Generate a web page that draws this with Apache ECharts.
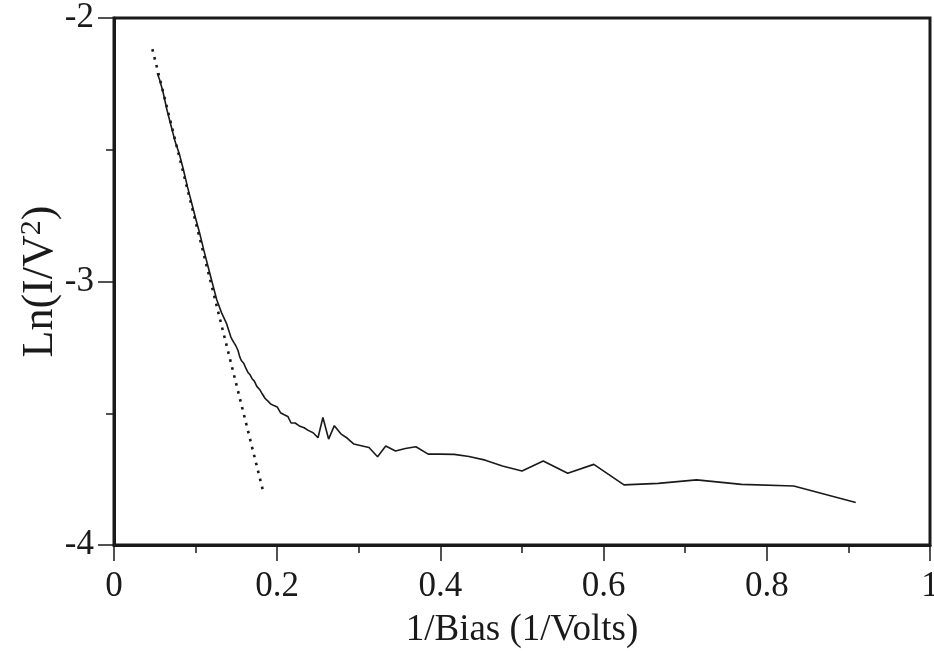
<!DOCTYPE html>
<html>
<head>
<meta charset="utf-8">
<script src="https://cdn.jsdelivr.net/npm/echarts@6/dist/echarts.min.js"></script>
<style>
html,body{margin:0;padding:0;background:#fff;}
#chart{width:934px;height:651px;}
</style>
</head>
<body>
<div id="chart"></div>
<script>
// Measured data: x = 1/Bias (1/Volts), y = Ln(I/V^2)
var invBias = [0.053,0.056,0.060,0.065,0.070,0.075,0.080,0.085,0.090,0.095,0.100,0.105,0.110,0.115,0.120,0.126,0.132,0.138,0.143,0.145,0.147,0.149,0.152,0.154,0.156,0.159,0.161,0.164,0.167,0.169,0.172,0.175,0.179,0.182,0.185,0.189,0.192,0.196,0.200,0.204,0.208,0.213,0.217,0.222,0.227,0.233,0.238,0.244,0.250,0.256,0.263,0.270,0.278,0.286,0.294,0.303,0.3125,0.323,0.333,0.345,0.357,0.370,0.385,0.400,0.417,0.435,0.455,0.476,0.500,0.526,0.556,0.588,0.625,0.667,0.714,0.769,0.833,0.909];
var lnIV2 = [-2.21,-2.235,-2.28,-2.35,-2.41,-2.47,-2.515,-2.575,-2.64,-2.70,-2.76,-2.817,-2.88,-2.94,-3.00,-3.07,-3.12,-3.16,-3.209,-3.222,-3.232,-3.242,-3.262,-3.285,-3.30,-3.31,-3.325,-3.344,-3.355,-3.368,-3.378,-3.398,-3.412,-3.428,-3.443,-3.455,-3.465,-3.471,-3.476,-3.498,-3.505,-3.512,-3.537,-3.537,-3.548,-3.555,-3.565,-3.574,-3.593,-3.516,-3.598,-3.547,-3.578,-3.595,-3.617,-3.623,-3.630,-3.665,-3.624,-3.643,-3.634,-3.627,-3.655,-3.655,-3.656,-3.664,-3.678,-3.700,-3.719,-3.681,-3.728,-3.694,-3.772,-3.766,-3.753,-3.770,-3.776,-3.839];
// Straight-line fit (dotted)
var fitX = [0.047, 0.183];
var fitY = [-2.118, -3.799];

var xTicks = [0, 0.2, 0.4, 0.6, 0.8, 1];
var yTicks = [-4, -3, -2];

var measured = invBias.map(function(v,i){return [v, lnIV2[i]];});
var fit = fitX.map(function(v,i){return [v, fitY[i]];});

var ink = '#1a1a1a';
var font = '"Liberation Serif","Times New Roman",serif';
var chart = echarts.init(document.getElementById('chart'), null, {renderer:'canvas'});
chart.setOption({
  animation:false,
  backgroundColor:'#fff',
  grid:{left:114,right:4,top:18,bottom:106,containLabel:false,outerBoundsMode:'none',show:true,borderColor:ink,borderWidth:3,backgroundColor:'transparent'},
  xAxis:{
    type:'value',min:xTicks[0],max:xTicks[xTicks.length-1],interval:0.2,
    name:'1/Bias (1/Volts)',nameLocation:'middle',nameGap:67,nameMoveOverlap:false,
    nameTextStyle:{fontFamily:font,fontSize:37,color:ink},
    axisLine:{show:true,onZero:false,lineStyle:{color:ink,width:3}},
    axisTick:{show:true,inside:false,length:16,lineStyle:{color:ink,width:1.5}},
    minorTick:{show:true,splitNumber:2,length:8,lineStyle:{color:ink,width:1.5}},
    axisLabel:{fontFamily:font,fontSize:35,color:ink,margin:24},
    splitLine:{show:false}
  },
  yAxis:{
    type:'value',min:yTicks[0],max:yTicks[yTicks.length-1],interval:1,
    name:'Ln(I/V{sup|2})',nameLocation:'middle',nameGap:51,nameRotate:90,nameMoveOverlap:false,
    nameTextStyle:{fontFamily:font,fontSize:44,color:ink,rich:{sup:{fontFamily:font,fontSize:30,color:ink,verticalAlign:'top',padding:[0,0,16,0]}}},
    axisLine:{show:true,onZero:false,lineStyle:{color:ink,width:3}},
    axisTick:{show:true,inside:false,length:16,lineStyle:{color:ink,width:1.5}},
    minorTick:{show:true,splitNumber:2,length:8,lineStyle:{color:ink,width:1.5}},
    axisLabel:{fontFamily:font,fontSize:35,color:ink,margin:20},
    splitLine:{show:false}
  },
  series:[
    {type:'line',data:measured,showSymbol:false,symbol:'none',lineStyle:{color:ink,width:1.6},z:3},
    {type:'line',data:fit,showSymbol:false,symbol:'none',lineStyle:{color:ink,width:2.6,type:[2.6,5.6],cap:'butt'},z:2}
  ]
});
</script>
</body>
</html>
